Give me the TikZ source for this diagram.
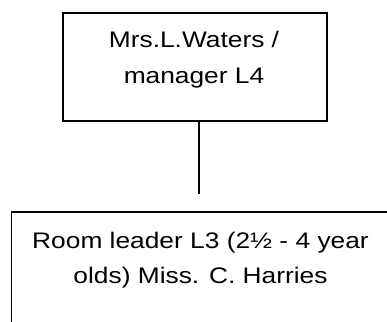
\documentclass[tikz,border=0pt]{standalone}
\usepackage{fontspec}
\setmainfont{Liberation Sans}[FakeStretch=1.17]
\begin{document}
\begin{tikzpicture}[x=1pt,y=-1pt,
  box/.style={draw=black,line width=1.2pt,rectangle,inner sep=0pt},
  txt/.style={inner sep=0pt,align=center,font=\fontsize{22.5}{35.5}\selectfont,text=black},
  conn/.style={draw=black,line width=1.2pt}]
\useasboundingbox (0,0) rectangle (387,321);
\clip (0,0) rectangle (387,321);
\node[box,minimum width=264pt,minimum height=108pt] (mgr) at (195,67) {};
\node[txt,anchor=base] (mgrtxt) at (194,83.2) {Mrs.L.Waters /\\manager L4};
\node[box,minimum width=377.5pt,minimum height=160pt] (leader) at (200.45,292) {};
\node[txt,anchor=base] (leadertxt) at (200.5,283.5) {Room leader L3 (2½ - 4 year\\olds) Miss. C. Harries};
\coordinate (cend) at (199,194);
\draw[conn] (mgr.south -| cend) -- (cend);
\end{tikzpicture}
\end{document}
